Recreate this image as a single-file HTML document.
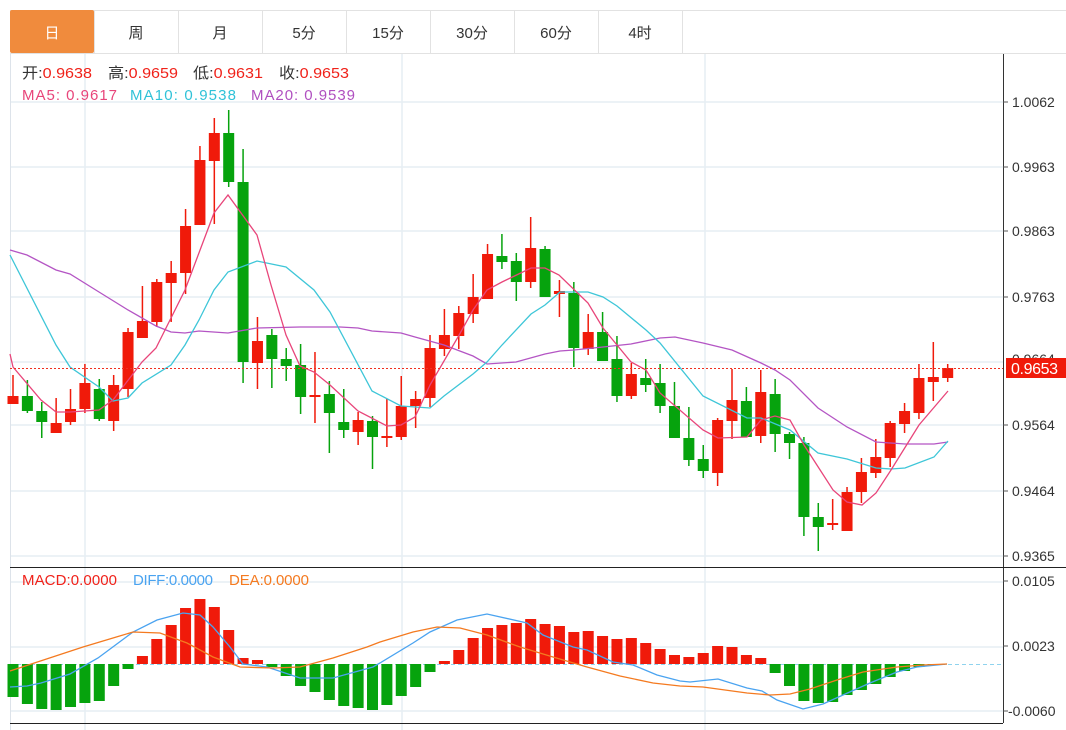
<!DOCTYPE html>
<html><head><meta charset="utf-8"><style>
body{margin:0;background:#fff;width:1066px;height:730px;overflow:hidden;font-family:"Liberation Sans","Noto Sans CJK SC",sans-serif}
svg{position:absolute;left:0;top:0}
</style></head><body>
<svg id="s" width="1066" height="730" xmlns="http://www.w3.org/2000/svg" font-family="Liberation Sans, Noto Sans CJK SC, sans-serif">
<rect x="0" y="0" width="1066" height="730" fill="#fff"/>
<line x1="10" y1="10.5" x2="1066" y2="10.5" stroke="#e2e2e2"/>
<line x1="10" y1="53.5" x2="1066" y2="53.5" stroke="#e2e2e2"/>
<rect x="10" y="10" width="84" height="43" rx="2" fill="#f08b3d"/>
<g stroke="#e2e2e2"><line x1="178.5" y1="10" x2="178.5" y2="53"/><line x1="262.5" y1="10" x2="262.5" y2="53"/><line x1="346.5" y1="10" x2="346.5" y2="53"/><line x1="430.5" y1="10" x2="430.5" y2="53"/><line x1="514.5" y1="10" x2="514.5" y2="53"/><line x1="598.5" y1="10" x2="598.5" y2="53"/><line x1="682.5" y1="10" x2="682.5" y2="53"/><line x1="94.5" y1="10" x2="94.5" y2="53"/></g>
<g font-size="15" text-anchor="middle" fill="#333">
<text x="52" y="38" fill="#fff">日</text><text x="136" y="38">周</text><text x="220" y="38">月</text><text x="304" y="38">5分</text><text x="388" y="38">15分</text><text x="472" y="38">30分</text><text x="556" y="38">60分</text><text x="640" y="38">4时</text>
</g>
<g id="grid" stroke="#e6eef4" stroke-width="1.5"></g>
<line x1="10.5" y1="54" x2="10.5" y2="730" stroke="#dde3ea"/>
<line x1="1003.5" y1="54" x2="1003.5" y2="723" stroke="#333"/>
<line x1="10" y1="567.5" x2="1066" y2="567.5" stroke="#222"/>
<line x1="10" y1="723.5" x2="1003" y2="723.5" stroke="#222"/>
<line x1="10" y1="664.5" x2="1003" y2="664.5" stroke="#8fd3ee" stroke-dasharray="4,3"/>
<g id="g"></g>
<line x1="10" y1="368.5" x2="1003" y2="368.5" stroke="#f03020" stroke-dasharray="2,2"/>
<g font-size="14" fill="#333">
<text x="1012" y="107">1.0062</text><text x="1012" y="172">0.9963</text><text x="1012" y="236">0.9863</text><text x="1012" y="302">0.9763</text><text x="1012" y="364">0.9664</text><text x="1012" y="430">0.9564</text><text x="1012" y="496">0.9464</text><text x="1012" y="561">0.9365</text>
<text x="1012" y="586">0.0105</text><text x="1012" y="651">0.0023</text><text x="1008" y="716">-0.0060</text>
</g>
<g stroke="#555"><line x1="1003" y1="102" x2="1008" y2="102"/><line x1="1003" y1="167" x2="1008" y2="167"/><line x1="1003" y1="231" x2="1008" y2="231"/><line x1="1003" y1="297" x2="1008" y2="297"/><line x1="1003" y1="425" x2="1008" y2="425"/><line x1="1003" y1="491" x2="1008" y2="491"/><line x1="1003" y1="556" x2="1008" y2="556"/><line x1="1003" y1="581" x2="1008" y2="581"/><line x1="1003" y1="646" x2="1008" y2="646"/><line x1="1003" y1="711" x2="1008" y2="711"/></g>
<rect x="1006" y="358" width="60" height="20" fill="#f01a0a"/>
<text x="1011" y="374" font-size="16" fill="#fff" textLength="47">0.9653</text>
<g font-size="15">
<text x="22" y="78" fill="#333" textLength="70" lengthAdjust="spacingAndGlyphs">开:<tspan fill="#f0221a">0.9638</tspan></text>
<text x="108" y="78" fill="#333" textLength="70" lengthAdjust="spacingAndGlyphs">高:<tspan fill="#f0221a">0.9659</tspan></text>
<text x="193" y="78" fill="#333" textLength="70" lengthAdjust="spacingAndGlyphs">低:<tspan fill="#f0221a">0.9631</tspan></text>
<text x="279" y="78" fill="#333" textLength="70" lengthAdjust="spacingAndGlyphs">收:<tspan fill="#f0221a">0.9653</tspan></text>
<text x="22" y="100" fill="#e8457a" textLength="95">MA5: 0.9617</text>
<text x="130" y="100" fill="#30c2d8" textLength="106">MA10: 0.9538</text>
<text x="251" y="100" fill="#b050c0" textLength="104">MA20: 0.9539</text>
<text x="22" y="585" fill="#f0221a" textLength="95">MACD:0.0000</text>
<text x="133" y="585" fill="#4aa3f0" textLength="80">DIFF:0.0000</text>
<text x="229" y="585" fill="#f47a20" textLength="80">DEA:0.0000</text>
</g>
</svg>
<script>
var NS="http://www.w3.org/2000/svg",g=document.getElementById('g'),gr=document.getElementById('grid');
function el(t,a,p){var e=document.createElementNS(NS,t);for(var k in a)e.setAttribute(k,a[k]);(p||g).appendChild(e);return e;}
[102,167,231,297,362,425,491,556,582,647,711].forEach(function(y){el('line',{x1:10,y1:y,x2:1003,y2:y},gr);});
[85,402,705].forEach(function(x){el('line',{x1:x,y1:54,x2:x,y2:730},gr);});
var C=[[404,396,375,404],[396,411,380,413],[411,422,402,438],[433,423,398,433],[422,409,389,425],[409,383,364,413],[389,419,379,421],[421,385,375,431],[389,332,328,397],[338,321,286,338],[322,282,279,327],[283,273,261,322],[273,226,209,294],[225,160,146,225],[161,133,118,224],[133,182,110,187],[182,362,149,383],[363,341,317,389],[335,359,329,388],[359,366,348,381],[365,397,344,414],[397,395,352,423],[394,413,381,453],[422,430,389,438],[432,420,412,445],[421,437,416,469],[438,436,399,447],[437,406,376,440],[406,399,391,428],[398,348,335,407],[349,335,309,356],[336,313,306,349],[314,297,274,323],[299,254,244,299],[256,262,234,269],[261,282,253,301],[282,248,217,288],[249,297,246,297],[294,291,280,317],[293,348,282,367],[349,332,314,355],[332,361,312,361],[359,396,336,402],[396,374,363,399],[378,385,359,392],[383,406,364,413],[406,438,382,438],[438,460,407,466],[459,471,445,478],[473,420,418,486],[421,400,369,439],[401,437,387,437],[436,392,370,443],[394,434,379,452],[434,443,432,459],[443,517,437,536],[517,527,503,551],[525,523,499,530],[531,492,487,531],[492,472,458,503],[473,457,439,478],[458,423,421,467],[424,411,403,433],[413,378,364,419],[382,377,342,401],[378,368,364,382]];
var M=[697,704,709,710,707,703,701,686,669,656,639,625,608,599,607,630,658,660,667,676,686,692,700,706,708,710,705,696,687,672,661,650,638,628,625,623,619,624,626,632,631,636,639,638,643,649,655,657,653,646,647,655,658,673,686,701,703,702,695,690,684,677,671,667,665,664];
var Z=664;
C.forEach(function(c,i){var x=13+i*14.38,up=c[1]<=c[0],col=up?'#f01a0a':'#06a30d';
 el('line',{x1:x,y1:c[2],x2:x,y2:c[3],stroke:col,'stroke-width':1.5});
 var t=Math.min(c[0],c[1]),b=Math.max(c[0],c[1]);if(b-t<2){t-=1;b+=1;}
 el('rect',{x:x-5.5,y:t,width:11,height:b-t,fill:col});
 var m=M[i];if(Math.abs(m-Z)>0.5){var red=m<Z;el('rect',{x:x-5.5,y:Math.min(m,Z),width:11,height:Math.abs(m-Z),fill:red?'#f01a0a':'#06a30d'});}
});
function pl(pts,col){el('polyline',{points:pts,fill:'none',stroke:col,'stroke-width':1.3});}
pl("10,250 27,255 56,270 70,274 99,292 128,310 156,326 171,332 185,333 199,331 228,333 257,328 300,327 340,327 358,328 372,331 401,333 415,337 444,345 473,356 487,364 516,362 545,354 560,351 574,350 603,347 631,344 660,338 675,337 703,343 732,350 761,363 775,370 790,380 818,408 847,427 876,442 905,444 934,444 948,442","#b455c4");
pl("10,255 56,345 70,367 99,387 113,401 128,398 142,383 171,365 185,345 199,320 214,290 228,272 257,261 286,267 314,290 330,312 372,391 401,406 430,408 444,396 473,374 487,362 502,345 531,314 545,305 560,292 588,292 603,297 617,306 646,330 660,343 703,396 747,418 761,418 790,430 818,453 847,459 876,468 891,469 905,468 934,457 948,441","#3ec6d8");
pl("10,354 13,367 41,400 56,412 70,412 99,410 113,400 142,362 156,348 185,290 214,213 228,195 257,235 271,285 286,335 300,366 314,372 330,385 358,411 387,426 401,425 415,417 430,385 458,337 473,310 487,290 502,282 531,268 545,268 559,275 588,303 603,328 631,362 646,370 660,393 703,430 718,438 747,437 761,420 775,416 790,420 804,445 833,490 847,502 862,505 876,493 891,470 919,425 948,391","#e8457a");
pl("10,687 27,686 41,683 70,674 98,658 133,632 157,620 183,613 200,615 213,627 230,647 243,664 267,667 300,678 333,678 373,667 380,663 413,643 430,632 457,620 487,614 527,623 543,635 573,647 587,650 613,662 633,665 657,675 680,681 690,682 718,679 747,688 762,691 777,700 803,709 823,704 843,695 870,683 897,672 917,667 947,664","#4aa3f0");
pl("10,671 83,647 133,632 160,633 187,643 213,657 240,667 273,668 300,667 333,658 367,647 380,642 413,632 437,627 460,628 487,635 520,647 553,657 587,667 620,676 653,683 680,686 703,687 747,693 770,695 790,694 810,689 837,680 863,672 897,667 923,665 947,664","#f47a20");
</script>
</body></html>
